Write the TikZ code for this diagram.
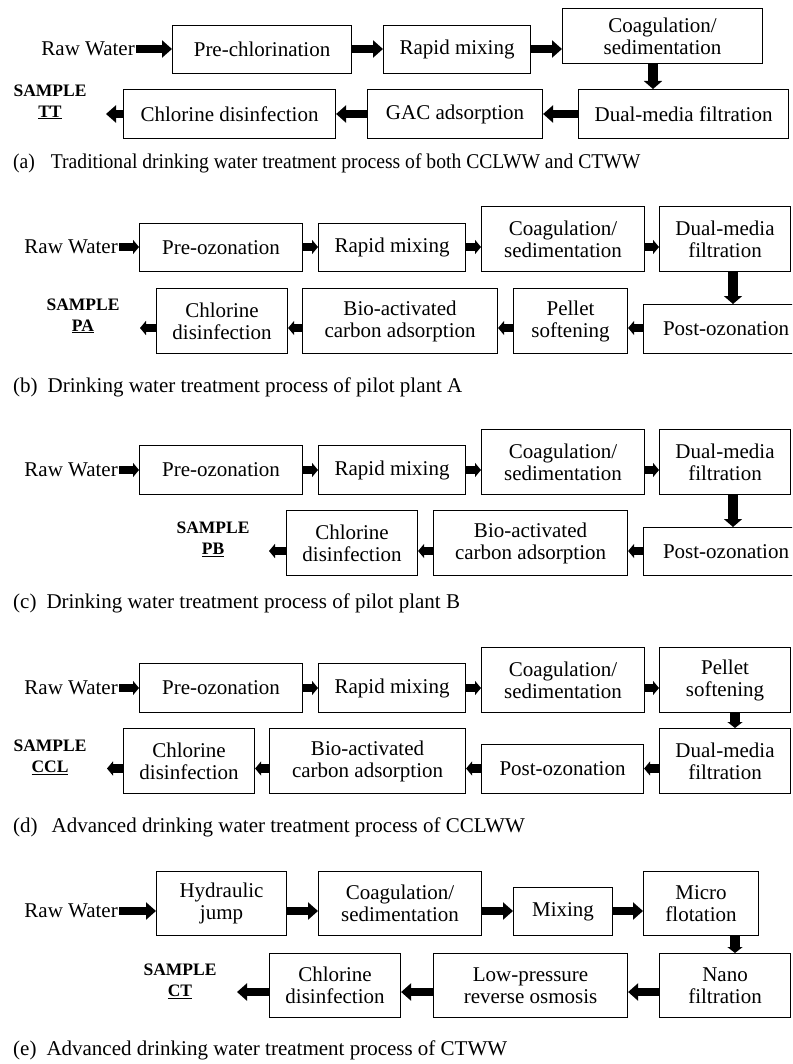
\documentclass[tikz,border=0pt]{standalone}
\usepackage{fontspec}
\setmainfont{Liberation Serif}
\usetikzlibrary{arrows.meta}
\tikzset{
	box/.style={draw,line width=1.1pt,anchor=north west,align=center,inner sep=2pt,font=\fontsize{21}{22}\selectfont},
	flow/.style={line width=8.5pt,-{Triangle[width=17pt,length=10pt]}},
	flowshort/.style={line width=8.5pt,-{Triangle[width=14pt,length=6pt]}},
	flowdown/.style={line width=9.5pt,-{Triangle[width=18pt,length=8pt]}},
	flowdownshort/.style={line width=9.5pt,-{Triangle[width=15pt,length=6pt]}},
	txt/.style={font=\fontsize{21}{22}\selectfont,inner sep=1pt},
	sample/.style={font=\fontsize{17.5}{21}\selectfont\bfseries,align=center,inner sep=0pt},
	captext/.style={font=\fontsize{21}{22}\selectfont,anchor=west,inner sep=0pt}
}
\begin{document}
\begin{tikzpicture}[x=1pt,y=-1pt,line join=miter]
		\useasboundingbox (0,0) rectangle (792,1064);
		\clip (0,0) rectangle (792,1064);
		% (a)
		\coordinate (ar1) at (0,49);
		\coordinate (ar2) at (0,114);
		\coordinate (ad) at (653,0);
		\node[txt,anchor=east] (a0) at (136,49) {Raw Water};
		\node[box,minimum width=179pt,minimum height=48pt] (a1) at (172,25) {Pre-chlorination};
		\node[box,minimum width=147pt,minimum height=48pt] (a2) at (383,25) {Rapid mixing};
		\node[box,minimum width=200pt,minimum height=55pt] (a3) at (562,8) {Coagulation/\\sedimentation};
		\node[box,minimum width=210pt,minimum height=49pt] (a4) at (578,89) {Dual-media filtration};
		\node[box,minimum width=175pt,minimum height=49pt] (a5) at (367,89) {GAC adsorption};
		\node[box,minimum width=212pt,minimum height=49pt] (a6) at (123,89) {Chlorine disinfection};
		\node[sample] (as) at (50,102) {SAMPLE\\\underline{TT}};
		\coordinate (ao) at (106,114);
		\foreach \s/\t in {a0/a1,a1/a2,a2/a3} \draw[flow] (\s.east |- ar1) -- (\t.west |- ar1);
		\foreach \s/\t in {a4/a5,a5/a6} \draw[flow] (\s.west |- ar2) -- (\t.east |- ar2);
		\draw[flow] (a6.west |- ar2) -- (ao);
		\draw[flowdown] (a3.south -| ad) -- (a4.north -| ad);
		\node[captext] (acap) at (13,163) {\scalebox{0.935}[1]{(a)\hspace{17pt}Traditional drinking water treatment process of both CCLWW and CTWW}};
		% (b)
		\coordinate (br1) at (0,247);
		\coordinate (br2) at (0,328);
		\coordinate (bd) at (733,0);
		\node[txt,anchor=east] (b0) at (119,247) {Raw Water};
		\node[box,minimum width=163pt,minimum height=48pt] (b1) at (139,223) {Pre-ozonation};
		\node[box,minimum width=147pt,minimum height=48pt] (b2) at (318,223) {Rapid mixing};
		\node[box,minimum width=163pt,minimum height=65pt] (b3) at (481,206) {Coagulation/\\sedimentation};
		\node[box,minimum width=131pt,minimum height=65pt] (b4) at (659,206) {Dual-media\\filtration};
		\node[box,minimum width=165pt,minimum height=49pt] (b5) at (643,304) {Post-ozonation};
		\node[box,minimum width=114pt,minimum height=65pt] (b6) at (513,288) {Pellet\\softening};
		\node[box,minimum width=195pt,minimum height=65pt] (b7) at (302,288) {Bio-activated\\carbon adsorption};
		\node[box,minimum width=131pt,minimum height=65pt] (b8) at (156,288) {Chlorine\\disinfection};
		\node[sample] (bs) at (83,316) {SAMPLE\\\underline{PA}};
		\coordinate (bo) at (140,328);
		\foreach \s/\t in {b0/b1,b1/b2,b2/b3,b3/b4} \draw[flowshort] (\s.east |- br1) -- (\t.west |- br1);
		\foreach \s/\t in {b5/b6,b6/b7,b7/b8} \draw[flowshort] (\s.west |- br2) -- (\t.east |- br2);
		\draw[flowshort] (b8.west |- br2) -- (bo);
		\draw[flowdown] (b4.south -| bd) -- (b5.north -| bd);
		\node[captext] (bcap) at (13,387) {(b)\hspace{10pt}Drinking water treatment process of pilot plant A};
		% (c)
		\coordinate (cr1) at (0,470);
		\coordinate (cr2) at (0,551);
		\coordinate (cd) at (733,0);
		\node[txt,anchor=east] (c0) at (119,470) {Raw Water};
		\node[box,minimum width=163pt,minimum height=49pt] (c1) at (139,445) {Pre-ozonation};
		\node[box,minimum width=147pt,minimum height=49pt] (c2) at (318,445) {Rapid mixing};
		\node[box,minimum width=163pt,minimum height=65pt] (c3) at (481,429) {Coagulation/\\sedimentation};
		\node[box,minimum width=131pt,minimum height=65pt] (c4) at (659,429) {Dual-media\\filtration};
		\node[box,minimum width=165pt,minimum height=48pt] (c5) at (643,527) {Post-ozonation};
		\node[box,minimum width=194pt,minimum height=65pt] (c6) at (433,510) {Bio-activated\\carbon adsorption};
		\node[box,minimum width=131pt,minimum height=65pt] (c7) at (286,510) {Chlorine\\disinfection};
		\node[sample] (cs) at (213,539) {SAMPLE\\\underline{PB}};
		\coordinate (co) at (269,551);
		\foreach \s/\t in {c0/c1,c1/c2,c2/c3,c3/c4} \draw[flowshort] (\s.east |- cr1) -- (\t.west |- cr1);
		\foreach \s/\t in {c5/c6,c6/c7} \draw[flowshort] (\s.west |- cr2) -- (\t.east |- cr2);
		\draw[flowshort] (c7.west |- cr2) -- (co);
		\draw[flowdown] (c4.south -| cd) -- (c5.north -| cd);
		\node[captext] (ccap) at (13,603) {(c)\hspace{10pt}Drinking water treatment process of pilot plant B};
		% (d)
		\coordinate (dr1) at (0,688);
		\coordinate (dr2) at (0,768.5);
		\coordinate (dd) at (735,0);
		\node[txt,anchor=east] (d0) at (119,688) {Raw Water};
		\node[box,minimum width=163pt,minimum height=49pt] (d1) at (139,663) {Pre-ozonation};
		\node[box,minimum width=147pt,minimum height=49pt] (d2) at (318,663) {Rapid mixing};
		\node[box,minimum width=163pt,minimum height=65pt] (d3) at (481,647) {Coagulation/\\sedimentation};
		\node[box,minimum width=131pt,minimum height=65pt] (d4) at (659,647) {Pellet\\softening};
		\node[box,minimum width=131pt,minimum height=65pt] (d5) at (659,728) {Dual-media\\filtration};
		\node[box,minimum width=162pt,minimum height=49pt] (d6) at (481,744) {Post-ozonation};
		\node[box,minimum width=196pt,minimum height=65pt] (d7) at (269,728) {Bio-activated\\carbon adsorption};
		\node[box,minimum width=131pt,minimum height=65pt] (d8) at (123,728) {Chlorine\\disinfection};
		\node[sample] (ds) at (50,757) {SAMPLE\\\underline{CCL}};
		\coordinate (do) at (107,768.5);
		\foreach \s/\t in {d0/d1,d1/d2,d2/d3,d3/d4} \draw[flowshort] (\s.east |- dr1) -- (\t.west |- dr1);
		\foreach \s/\t in {d5/d6,d6/d7,d7/d8} \draw[flowshort] (\s.west |- dr2) -- (\t.east |- dr2);
		\draw[flowshort] (d8.west |- dr2) -- (do);
		\draw[flowdownshort] (d4.south -| dd) -- (d5.north -| dd);
		\node[captext] (dcap) at (13,827) {(d)\hspace{14pt}Advanced drinking water treatment process of CCLWW};
		% (e)
		\coordinate (er1) at (0,911);
		\coordinate (er2) at (0,992);
		\coordinate (ed) at (735,0);
		\node[txt,anchor=east] (e0) at (119,911) {Raw Water};
		\node[box,minimum width=130pt,minimum height=64pt] (e1) at (156,871) {Hydraulic\\jump};
		\node[box,minimum width=163pt,minimum height=64pt] (e2) at (318,871) {Coagulation/\\sedimentation};
		\node[box,minimum width=99pt,minimum height=48pt] (e3) at (513,887) {Mixing};
		\node[box,minimum width=115pt,minimum height=64pt] (e4) at (643,871) {Micro\\flotation};
		\node[box,minimum width=131pt,minimum height=64pt] (e5) at (659,953) {Nano\\filtration};
		\node[box,minimum width=194pt,minimum height=64pt] (e6) at (433,953) {Low-pressure\\reverse osmosis};
		\node[box,minimum width=131pt,minimum height=64pt] (e7) at (269,953) {Chlorine\\disinfection};
		\node[sample] (es) at (180,981) {SAMPLE\\\underline{CT}};
		\coordinate (eo) at (237,992);
		\foreach \s/\t in {e0/e1,e1/e2,e2/e3,e3/e4} \draw[flow] (\s.east |- er1) -- (\t.west |- er1);
		\foreach \s/\t in {e5/e6,e6/e7} \draw[flow] (\s.west |- er2) -- (\t.east |- er2);
		\draw[flow] (e7.west |- er2) -- (eo);
		\draw[flowdownshort] (e4.south -| ed) -- (e5.north -| ed);
		\node[captext] (ecap) at (13,1050) {(e)\hspace{10pt}Advanced drinking water treatment process of CTWW};
\end{tikzpicture}
\end{document}
